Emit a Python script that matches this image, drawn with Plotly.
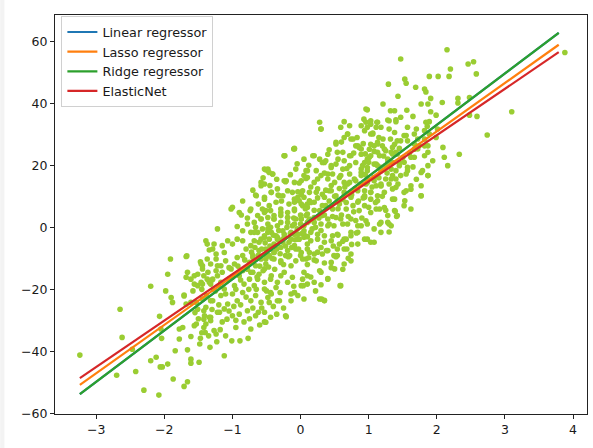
import plotly.graph_objects as go

# ---- scatter samples (x, y), grouped by region of the cloud ----
pts_lower_left = [
    (-1.91, -10.2), (-1.67, -9.2), (-1.34, -7.3), (-1.24, -8.6), (-1.47, -11.1), (-1.44, -12.4),
    (-1.95, -15.1), (-1.66, -14.5), (-1.68, -16.1), (-1.56, -15.6), (-1.51, -15.1), (-1.42, -15.6),
    (-1.36, -14.5), (-1.24, -14.0), (-1.22, -12.4), (-1.56, -18.3), (-1.51, -18.8), (-1.46, -17.7),
    (-2.20, -19.0), (-1.98, -20.5), (-1.90, -22.6), (-1.71, -22.1), (-1.58, -20.5), (-1.34, -17.7),
    (-1.29, -16.7), (-1.88, -24.2), (-1.68, -24.7), (-1.53, -24.2), (-1.29, -23.7), (-2.65, -26.4),
    (-2.07, -28.7), (-1.51, -26.4), (-1.39, -25.8), (-1.42, -26.9), (-1.42, -29.6), (-1.34, -29.0),
    (-1.32, -30.1), (-1.39, -31.2), (-1.42, -32.3), (-1.53, -31.2), (-1.56, -31.7), (-1.78, -32.8),
    (-1.73, -32.3), (-2.05, -32.8), (-1.27, -33.3), (-1.24, -34.4), (-1.19, -27.4), (-2.62, -35.5),
    (-2.04, -35.8), (-1.78, -36.0), (-1.61, -35.2), (-1.47, -35.8), (-1.23, -36.9), (-1.33, -38.7),
    (-1.66, -39.5), (-1.84, -39.8), (-2.47, -39.3), (-3.24, -41.2), (-2.12, -41.9), (-2.20, -43.0),
    (-1.61, -42.5), (-1.61, -43.8), (-1.49, -43.5), (-1.95, -44.1), (-2.03, -45.0), (-2.06, -45.0),
    (-2.42, -46.5), (-2.70, -47.7), (-1.87, -48.9), (-1.66, -49.8), (-1.71, -51.3), (-2.30, -52.5),
    (-2.08, -54.1),
]

pts_mid_left = [
    (-0.48, 18.3), (-0.41, 17.2), (-0.22, 14.7), (-0.02, 14.3), (0.08, 15.8), (-0.53, 14.0),
    (-0.58, 13.4), (-0.66, 10.4), (-0.33, 10.4), (-0.04, 11.5), (0.05, 9.7), (-1.00, 6.5),
    (-1.02, 5.9), (-0.74, 5.4), (-0.90, 4.8), (-0.87, 4.0), (-0.53, 4.8), (-0.44, 5.4),
    (-0.39, 3.8), (-0.48, 3.2), (-0.58, 2.7), (-0.29, 3.8), (-0.19, 4.8), (-0.09, 8.1),
    (-0.02, 8.6), (0.03, 7.0), (0.10, 7.5), (-1.22, -0.5), (-0.78, 1.1), (-0.93, 0.3),
    (-0.85, -1.1), (-0.68, 1.6), (-0.66, 0.0), (-0.73, -1.6), (-0.63, -1.6), (-0.56, -0.5),
    (-0.48, -1.6), (-0.44, 0.0), (-0.34, 0.5), (-0.26, -1.1), (-0.19, 1.6), (-0.12, 0.5),
    (-0.07, 2.7), (0.00, 1.1), (0.08, 3.8), (0.13, 2.7),
    (-1.39, -4.3), (-1.37, -5.4), (-1.29, -7.0), (-1.27, -5.4), (-1.15, -5.9), (-1.12, -8.1),
    (-1.07, -4.3), (-1.00, -5.4), (-0.93, -3.8), (-0.85, -4.3), (-0.80, -7.0), (-0.73, -5.9),
    (-0.68, -4.3), (-0.61, -4.8), (-0.53, -3.2), (-0.46, -3.8), (-0.39, -5.4), (-0.34, -3.8),
    (-0.24, -3.2), (-0.17, -4.8), (-0.09, -2.2), (-0.02, -3.8), (0.05, -2.2), (0.10, -5.4),
    (-1.68, -9.4), (-1.46, -11.8), (-1.44, -13.4), (-1.37, -10.2), (-1.32, -11.8), (-1.24, -10.2),
    (-1.17, -12.4), (-1.10, -10.8), (-1.02, -13.4), (-0.97, -11.8), (-0.93, -9.7), (-0.85, -9.1),
    (-0.75, -11.3), (-0.70, -9.7), (-0.66, -12.4), (-0.58, -10.2), (-0.51, -11.8), (-0.46, -9.1),
    (-0.39, -10.2), (-0.29, -11.3), (-0.22, -9.1), (-0.14, -12.4), (-0.07, -10.8), (0.00, -9.1),
    (0.08, -10.2),
    (-1.61, -16.7), (-1.44, -18.3), (-1.37, -16.7), (-1.32, -18.3), (-1.22, -15.6), (-1.17, -17.7),
    (-1.12, -19.9), (-1.05, -16.7), (-0.97, -18.8), (-0.90, -15.6), (-0.83, -18.3), (-0.75, -16.7),
    (-0.68, -18.8), (-0.61, -15.1), (-0.53, -17.7), (-0.44, -16.7), (-0.36, -19.4), (-0.29, -15.6),
    (-0.19, -17.7), (-0.09, -21.0), (-0.04, -22.0), (0.03, -16.7), (0.10, -18.3),
    (-1.71, -21.8), (-1.61, -24.2), (-1.44, -23.1), (-1.32, -23.7), (-1.17, -22.0), (-1.07, -24.7),
    (-1.00, -21.5), (-0.93, -23.7), (-0.85, -21.0), (-0.73, -23.7), (-0.66, -22.0), (-0.58, -24.2),
    (-0.48, -22.6), (-0.44, -21.0), (-0.34, -23.7), (-0.14, -23.7), (0.05, -23.1),
    (-1.41, -28.5), (-1.32, -29.0), (-1.22, -27.4), (-1.12, -26.3), (-1.00, -28.5), (-0.90, -28.0),
    (-0.78, -26.9), (-0.66, -28.5), (-0.53, -27.4), (-0.44, -29.0), (-0.22, -28.5),
    (-0.95, -32.3), (-0.73, -32.8), (-1.08, -29.6), (-0.62, -27.4), (-0.53, -30.5), (-1.12, -41.4),
    (-1.01, -36.6), (-0.89, -36.6), (-0.77, -35.8), (-1.40, -33.9), (-1.48, -37.6), (-0.21, -28.8),
    (-0.51, -30.6), (-0.23, 23.1), (-0.10, 25.3),
]

pts_center = [
    (0.98, 37.9), (1.30, 34.4), (1.40, 34.7), (0.64, 34.1), (0.72, 32.8), (0.59, 32.3),
    (0.28, 33.9), (0.30, 31.7), (0.89, 32.8), (0.96, 33.9), (1.03, 33.3), (1.13, 33.9),
    (1.11, 32.3), (0.94, 31.2), (1.06, 30.1), (1.30, 31.7), (1.38, 30.6), (1.42, 27.9),
    (0.69, 30.1), (0.64, 29.0), (0.77, 28.5), (0.52, 27.4), (0.81, 26.3), (0.86, 25.8),
    (1.03, 26.8), (1.13, 27.4), (1.20, 26.3), (1.25, 24.7), (1.35, 25.8), (1.40, 24.2),
    (-0.09, 25.5), (-0.24, 23.1), (0.20, 23.1), (0.40, 23.6), (0.62, 24.2), (0.72, 23.1),
    (0.89, 23.6), (0.98, 22.0), (1.16, 23.1), (1.28, 22.0), (1.35, 20.9),
    (-0.48, 18.8), (-0.51, 18.6), (-0.07, 18.8), (0.08, 18.3), (0.23, 18.3), (0.35, 20.9),
    (0.45, 19.3), (0.52, 20.4), (0.62, 18.8), (0.72, 19.9), (0.81, 20.9), (0.89, 18.8),
    (0.98, 19.3), (1.08, 20.4), (1.18, 18.3), (1.25, 19.9), (1.35, 16.7), (1.40, 18.3),
    (-0.58, 14.5), (-0.41, 17.2), (-0.21, 15.0), (0.01, 15.0), (0.10, 16.1), (0.20, 14.5),
    (0.30, 16.7), (0.40, 15.6), (0.47, 17.2), (0.57, 16.1), (0.64, 14.5), (0.72, 17.2),
    (0.81, 15.0), (0.89, 16.7), (0.96, 14.0), (1.08, 15.0), (1.18, 13.4), (1.30, 14.0),
    (1.40, 12.9),
    (-0.53, 9.7), (-0.43, 11.3), (-0.34, 12.4), (-0.26, 10.2), (-0.12, 11.3), (-0.04, 9.7),
    (0.03, 11.8), (0.13, 11.3), (0.25, 12.4), (0.32, 10.7), (0.42, 11.8), (0.52, 10.2),
    (0.64, 11.3), (0.74, 9.7), (0.84, 11.8), (0.94, 10.2), (1.03, 9.1), (1.13, 10.2),
    (1.23, 11.3), (1.35, 9.1),
    (-0.56, 5.9), (-0.46, 7.0), (-0.36, 8.1), (-0.29, 5.9), (-0.17, 7.5), (-0.09, 5.9),
    (0.01, 7.5), (0.10, 6.4), (0.20, 8.1), (0.28, 5.4), (0.37, 7.0), (0.47, 5.9),
    (0.57, 7.5), (0.67, 5.9), (0.77, 7.0), (0.86, 5.4), (0.94, 7.0), (1.03, 4.8),
    (1.16, 5.9), (1.28, 3.8), (1.38, 5.4), (1.42, 3.8),
    (-0.58, 2.7), (-0.48, 1.1), (-0.39, 2.7), (-0.29, 1.6), (-0.19, 3.2), (-0.09, 1.1),
    (0.01, 2.7), (0.10, 1.6), (0.20, 3.2), (0.30, 1.1), (0.40, 2.7), (0.49, 0.5),
    (0.59, 2.7), (0.69, 1.1), (0.81, 2.2), (0.89, 0.5), (0.98, 1.1), (1.16, 1.1),
    (1.30, 1.1),
    (-0.53, -2.7), (-0.43, -1.6), (-0.34, -3.2), (-0.24, -2.2), (-0.14, -3.8), (-0.04, -2.2),
    (0.05, -3.2), (0.15, -1.6), (0.25, -3.8), (0.35, -2.7), (0.45, -4.3), (0.54, -2.2),
    (0.64, -3.8), (0.74, -2.7), (0.84, -1.6), (1.03, -4.8), (0.94, -3.8),
    (-0.51, -7.0), (-0.39, -8.1), (-0.29, -6.5), (-0.19, -7.5), (-0.09, -5.9), (0.01, -8.1),
    (0.10, -7.0), (0.20, -8.6), (0.30, -6.5), (0.40, -7.5), (0.49, -9.1), (0.64, -7.0),
    (0.74, -8.6), (0.54, -7.0),
]

pts_core = [
    (0.30, 31.7), (0.69, 30.1), (0.74, 28.5), (0.84, 26.3), (0.89, 25.3), (1.03, 30.1),
    (1.13, 26.9), (1.23, 25.3), (1.35, 23.7), (1.52, 29.6), (1.57, 27.9), (1.67, 26.9),
    (1.72, 25.3), (1.82, 26.3), (1.87, 24.2), (0.52, 26.9), (-0.24, 23.1), (-0.09, 25.3),
    (0.18, 23.1), (0.32, 20.9), (0.37, 21.5), (0.45, 19.9), (0.54, 24.2), (0.64, 21.5),
    (0.74, 23.1), (0.94, 20.9), (1.01, 22.6), (1.13, 19.9), (1.33, 18.8), (1.45, 20.9),
    (1.57, 19.4), (1.67, 22.6), (1.77, 17.7), (1.87, 16.7),
    (-0.53, 18.8), (-0.46, 17.7), (-0.24, 15.0), (-0.09, 14.5), (0.05, 16.7), (0.10, 18.3),
    (0.25, 15.6), (0.40, 17.2), (0.50, 14.5), (0.59, 16.7), (0.69, 14.0), (0.79, 15.6),
    (0.89, 17.7), (0.98, 14.5), (1.08, 16.1), (1.18, 13.4), (1.33, 15.6), (1.43, 14.0),
    (1.55, 11.8), (1.62, 13.4), (1.77, 10.2),
    (-0.65, 10.2), (-0.53, 9.1), (-0.43, 11.3), (-0.31, 10.2), (-0.19, 11.8), (-0.09, 9.1),
    (0.01, 10.7), (0.13, 8.6), (0.23, 11.3), (0.35, 9.7), (0.45, 11.8), (0.54, 8.6),
    (0.64, 10.2), (0.74, 11.3), (0.84, 8.1), (0.94, 9.7), (1.03, 11.3), (1.13, 8.6),
    (1.23, 6.4), (1.38, 9.1), (1.52, 7.0), (1.62, 5.9), (1.11, 5.9),
    (-0.73, 5.9), (-0.63, 3.8), (-0.51, 5.4), (-0.39, 2.7), (-0.29, 4.8), (-0.19, 3.2),
    (-0.09, 5.4), (0.01, 2.7), (0.10, 4.3), (0.20, 1.6), (0.32, 3.8), (0.42, 1.1),
    (0.52, 3.2), (0.62, 1.1), (0.74, 2.7), (0.84, 0.5), (0.96, 2.1), (1.08, -0.5),
    (1.18, 1.6), (1.33, 0.5), (1.28, 1.6),
    (-0.68, -1.6), (-0.58, -3.8), (-0.48, -0.5), (-0.36, -2.7), (-0.26, -4.8), (-0.14, -1.6),
    (-0.04, -3.8), (0.05, -1.1), (0.15, -4.3), (0.25, -2.2), (0.35, -4.8), (0.47, -2.7),
    (0.57, -5.4), (0.67, -3.8), (0.74, -1.6), (0.84, -5.4), (0.98, -3.8), (1.08, -4.8),
    (1.18, -1.6),
    (-0.70, -9.1), (-0.61, -7.5), (-0.51, -10.2), (-0.39, -8.1), (-0.29, -10.8), (-0.16, -9.1),
    (-0.07, -7.0), (0.03, -10.2), (0.13, -8.1), (0.23, -10.8), (0.32, -8.6), (0.45, -11.3),
    (0.54, -9.1), (0.64, -11.8), (0.74, -10.8),
    (-0.73, -14.5), (-0.63, -16.7), (-0.53, -13.4), (-0.43, -15.6), (-0.34, -17.7), (-0.24, -14.5),
    (-0.12, -16.1), (0.01, -18.8), (0.10, -15.6), (0.20, -17.7), (0.30, -14.5), (0.40, -16.7),
    (0.50, -13.4), (0.59, -18.8), (0.28, -23.1), (0.35, -23.7), (-0.09, -21.0), (-0.14, -21.5),
    (-0.53, -19.9), (-0.43, -21.5), (-0.46, -24.2), (-0.31, -23.7),
]

pts_band = [
    (-1.30, -17.0), (-1.25, -20.5), (-1.20, -19.0), (-1.15, -14.5), (-1.10, -21.5), (-1.05, -13.0),
    (-1.00, -16.0), (-0.95, -20.0), (-0.92, -12.5), (-0.88, -17.0), (-0.85, -14.0), (-0.82, -10.5),
    (-0.78, -13.5), (-0.76, -20.0), (-0.72, -8.0), (-0.70, -14.5), (-0.67, -6.5), (-0.64, -16.0),
    (-0.62, -9.0), (-0.60, -12.5), (-0.57, -7.0), (-0.55, -14.0), (-0.52, -5.0), (-0.50, -9.5),
    (-0.47, -12.8), (-0.45, -6.0), (-0.42, -10.0), (-0.40, -2.5), (-0.38, -13.5), (-0.35, -7.0),
    (-0.32, -1.0), (-0.30, -8.5), (-0.27, -4.0), (-0.25, -12.0), (-0.22, -6.0), (-0.20, 0.0),
    (-0.18, -9.5), (-0.15, -2.0), (-0.13, -6.5), (-0.10, 3.0), (-0.08, -4.0), (-0.05, -0.5),
    (-0.03, -7.0), (0.00, 4.0), (0.02, -2.0), (0.05, 0.5), (0.07, 6.0), (0.10, -3.0),
    (0.12, 2.0), (0.15, 8.0), (0.17, -0.5), (0.20, 5.5), (0.22, 0.0), (0.25, 9.5),
    (0.27, 3.0), (0.30, -1.0), (0.32, 7.0), (0.35, 4.0), (0.37, 12.0), (0.40, 0.5),
    (0.42, 8.5), (0.45, 13.5), (0.47, 3.5), (0.50, 10.0), (0.55, 6.0), (0.57, 12.5),
    (0.60, 4.0), (0.62, 9.0), (0.65, 13.0), (0.67, 8.0), (0.70, 3.5), (0.72, 14.5),
    (0.75, 10.5), (0.78, 5.0), (0.80, 12.5), (0.85, 8.5), (0.88, 14.0), (0.90, 3.0),
    (0.92, 9.5), (0.95, 17.0), (1.00, 6.5), (1.05, 13.0), (1.10, 8.0), (1.15, 16.0),
    (1.20, 10.0), (1.25, 5.5),
]

pts_fill = [
    (-1.45, -20.0), (-1.38, -22.0), (-1.28, -20.0), (-1.20, -25.0), (-1.15, -30.5), (-1.05, -27.0),
    (-0.98, -25.5), (-0.95, -30.0), (-0.88, -25.0), (-0.83, -30.5), (-0.80, -22.5), (-0.75, -29.5),
    (-0.70, -26.0), (-0.65, -20.0), (-0.60, -31.5), (-0.57, -26.0), (-0.50, -20.5), (-0.40, -25.5),
    (-0.35, -28.0), (-0.30, -21.0), (-0.25, -26.0), (-1.55, -27.5), (-1.50, -29.5), (-1.45, -34.0),
    (-1.35, -35.0), (-1.30, -26.5), (-1.18, -33.0), (-1.10, -35.0),
    (0.15, 13.0), (0.28, 22.0), (0.35, 17.5), (0.42, 25.0), (0.55, 22.0), (0.60, 27.5),
    (0.68, 19.0), (0.78, 24.0), (0.83, 29.0), (0.92, 27.0), (1.00, 21.0), (1.08, 24.5),
    (1.15, 29.0), (1.22, 23.0), (1.27, 17.5), (1.32, 28.5), (1.45, 25.5), (1.50, 22.5),
    (1.60, 24.0), (1.65, 19.5), (1.70, 15.5), (1.72, 28.5),
    (-0.85, 8.5), (-0.78, 3.0), (-0.70, 12.0), (-0.62, 7.5), (-0.55, 16.0), (-0.45, 13.5),
    (-0.35, 15.5), (-0.28, 8.5), (-0.15, 17.0), (-0.05, 20.5), (0.05, 22.0), (0.12, 20.0),
]

pts_lower_center = [
    (0.10, -12.0), (0.20, -10.5), (0.28, -14.0), (0.35, -11.5), (0.45, -13.0), (0.52, -9.5),
    (0.40, -16.5), (0.30, -18.5), (0.15, -16.0), (0.05, -14.5), (0.62, -13.5), (0.58, -18.8),
    (0.68, -7.0), (0.82, -1.8), (0.31, -23.1), (0.35, -23.5), (0.04, -18.8), (-0.10, -19.0),
    (0.22, -20.5), (0.48, -6.0), (0.62, -4.5), (0.75, -5.5), (0.70, -10.0), (0.25, -8.0),
    (0.38, -7.5), (0.12, -9.8), (0.55, -2.5), (1.39, 5.2), (1.41, 3.5), (1.53, 8.6),
    (1.62, 12.3), (1.30, -1.5),
]

pts_upper_right = [
    (2.15, 57.3), (1.47, 54.3), (2.46, 52.7), (2.54, 53.4), (2.20, 51.1), (2.58, 49.5),
    (1.53, 47.8), (1.55, 46.5), (1.89, 48.7), (2.02, 48.7), (2.18, 48.7), (1.29, 46.2),
    (1.69, 45.2), (1.82, 44.6), (1.84, 43.7), (1.91, 41.6), (2.08, 40.3), (2.31, 41.6),
    (2.31, 40.1), (2.48, 41.9), (1.43, 42.3), (1.21, 39.8), (1.77, 39.8), (1.87, 39.8),
    (0.96, 38.2), (1.32, 37.6), (1.38, 37.6), (1.56, 37.8), (1.91, 37.3), (1.99, 36.2),
    (1.47, 35.5), (1.65, 35.8), (0.93, 34.9), (1.03, 34.4), (1.12, 33.9), (1.28, 34.6),
    (1.40, 34.1), (1.18, 32.3), (1.06, 30.4), (0.98, 32.3), (1.57, 32.3), (1.70, 31.7),
    (1.84, 33.9), (1.89, 34.1), (1.86, 32.6), (1.82, 31.2), (1.89, 30.1), (2.01, 31.7),
    (2.48, 36.2), (2.59, 35.8), (3.10, 37.3), (2.74, 29.8), (1.99, 29.0), (1.67, 30.1),
    (1.55, 29.6), (1.47, 27.9), (1.38, 26.8), (1.21, 28.5), (1.08, 26.3), (1.01, 25.2),
    (1.13, 24.2), (1.03, 23.1), (0.95, 23.7), (0.91, 19.9), (0.98, 18.3), (1.11, 20.4),
    (1.18, 19.4), (1.28, 21.0), (1.33, 24.2), (1.42, 23.7), (1.52, 21.0), (1.62, 22.6),
    (1.67, 25.2), (1.74, 26.3), (1.82, 28.5), (1.87, 26.3), (2.09, 25.8), (2.33, 23.6),
    (2.11, 22.6), (1.82, 23.1), (1.94, 21.5), (1.87, 19.9), (2.16, 19.9), (1.79, 18.3),
    (1.57, 18.3), (1.45, 19.9), (1.47, 16.7), (1.40, 15.6), (1.55, 17.2), (1.77, 13.4),
    (1.87, 16.7), (1.25, 15.6), (1.18, 14.0), (1.35, 12.4), (1.11, 13.4), (0.98, 15.6),
    (1.52, 11.3), (1.77, 10.2), (0.94, 11.8), (1.03, 11.3), (3.88, 56.4),
]

# ---- fitted regression lines (end points over the x span) ----
line_x = [-3.24, 3.79]
linear_y = [-53.8, 62.7]
lasso_y = [-50.8, 58.9]
ridge_y = [-53.8, 62.7]
elastic_y = [-48.6, 56.5]

x_ticks = [-3, -2, -1, 0, 1, 2, 3, 4]
x_tick_text = ["−3", "−2", "−1", "0", "1", "2", "3", "4"]
y_ticks = [-60, -40, -20, 0, 20, 40, 60]
y_tick_text = ["−60", "−40", "−20", "0", "20", "40", "60"]

all_pts = (pts_lower_left + pts_mid_left + pts_center + pts_core + pts_band
           + pts_fill + pts_lower_center + pts_upper_right)
xs = [p[0] for p in all_pts]
ys = [p[1] for p in all_pts]

fig = go.Figure()
fig.add_trace(go.Scatter(
    x=xs, y=ys, mode="markers", showlegend=False,
    marker=dict(color="#9acd32", size=5.6, line=dict(width=0)),
))

lines = [
    ("Linear regressor", linear_y, "#1f77b4"),
    ("Lasso regressor", lasso_y, "#ff7f0e"),
    ("Ridge regressor", ridge_y, "#2ca02c"),
    ("ElasticNet", elastic_y, "#d62728"),
]
for name, yv, col in lines:
    fig.add_trace(go.Scatter(x=line_x, y=yv, mode="lines", name=name,
                             line=dict(color=col, width=2.2)))

axis_common = dict(
    showgrid=False, zeroline=False, showline=True, linecolor="#222", linewidth=1,
    mirror=True, ticks="outside", ticklen=4, tickwidth=1, tickcolor="#222",
    tickfont=dict(family="DejaVu Sans", size=12.5, color="#1a1a1a"),
)
fig.update_xaxes(range=[-3.605, 4.205], tickvals=x_ticks, ticktext=x_tick_text, **axis_common)
fig.update_yaxes(range=[-60.2, 68.5], tickvals=y_ticks, ticktext=y_tick_text, **axis_common)

fig.update_layout(
    width=593, height=448,
    margin=dict(l=55, r=6, t=15, b=34),
    paper_bgcolor="white", plot_bgcolor="white",
    font=dict(family="DejaVu Sans", size=12.5, color="#1a1a1a"),
    legend=dict(
        x=0.012, y=0.997, xanchor="left", yanchor="top",
        bgcolor="rgba(255,255,255,0.85)", bordercolor="#d0d0d0", borderwidth=1,
        font=dict(family="DejaVu Sans", size=12.8, color="#1a1a1a"),
        itemwidth=30, tracegroupgap=0,
    ),
    shapes=[dict(type="rect", xref="paper", yref="paper",
                 x0=-0.103, x1=-0.095, y0=-0.09, y1=1.04,
                 fillcolor="#f3f3f3", line=dict(width=0), layer="below")],
)

fig.write_html("out.html")
